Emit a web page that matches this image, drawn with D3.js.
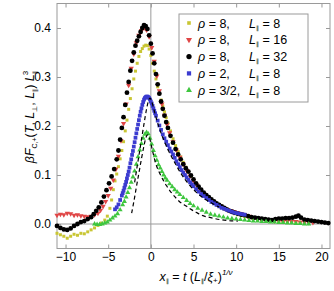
<!DOCTYPE html>
<html>
<head>
<meta charset="utf-8">
<script src="https://cdn.jsdelivr.net/npm/d3@7"></script>
<style>
  body { margin: 0; background: #fff; }
  text { font-family: "Liberation Sans", Arial, sans-serif; fill: #000; }
  .axis path { display: none; }
  .axis line { stroke: #999; }
  .axis text { font-size: 12px; }
</style>
</head>
<body>
<div id="chart"></div>
<script>
// Step 1: data, [x, y] pairs
// =================================
var rho8L8 = [
  [-11.0,-0.019],[-10.6,-0.022],[-10.2,-0.025],[-9.8,-0.029],[-9.4,-0.025],[-9.0,-0.021],
  [-8.6,-0.023],[-8.2,-0.019],[-7.8,-0.020],[-7.4,-0.016],[-7.0,-0.012],[-6.6,-0.008],
  [-6.2,-0.003],[-5.8,0.002],[-5.4,0.008],[-5.1,0.016],[-4.8,0.032],[-4.6,0.049],
  [-4.4,0.070],[-4.2,0.088],[-4.0,0.102],[-3.8,0.117],[-3.6,0.133],[-3.4,0.150],
  [-3.2,0.168],[-3.0,0.190],[-2.8,0.212],[-2.6,0.234],[-2.4,0.256],[-2.2,0.276],
  [-2.0,0.296],[-1.8,0.312],[-1.6,0.328],[-1.4,0.342],[-1.2,0.352],[-1.0,0.358],
  [-0.8,0.363],[-0.6,0.365],[-0.4,0.364],[-0.2,0.357],[0.0,0.344],[0.2,0.328],
  [0.4,0.312],[0.6,0.296],[0.8,0.280],[1.0,0.266],[1.2,0.253],[1.4,0.241],
  [1.6,0.229],[1.8,0.217],[2.0,0.206],[2.3,0.190],[2.6,0.174],[2.9,0.160],
  [3.2,0.148],[3.5,0.137],[3.8,0.126],[4.1,0.116],[4.4,0.106],[4.7,0.097],
  [5.0,0.089],[5.4,0.079],[5.8,0.070],[6.2,0.062],[6.6,0.055],[7.0,0.049],
  [7.4,0.043],[7.8,0.038],[8.2,0.034],[8.6,0.030],[9.0,0.027],[9.4,0.024],
  [9.8,0.021],[10.2,0.019],[10.6,0.017],[11.0,0.015],[11.5,0.013],[12.0,0.011],
  [12.5,0.009],[13.0,0.008],[13.5,0.007],[14.0,0.006],[14.5,0.005],[15.0,0.004],
  [15.5,0.004],[16.0,0.003],[16.5,0.003],[17.0,0.002],[17.5,0.002],[18.0,0.001]
];

var rho8L16 = [
  [-11.0,0.018],[-10.6,0.020],[-10.2,0.019],[-9.8,0.022],[-9.4,0.021],[-9.0,0.018],
  [-8.6,0.019],[-8.2,0.017],[-7.8,0.016],[-7.4,0.015],[-7.0,0.016],[-6.6,0.019],
  [-6.2,0.022],[-5.9,0.028],[-5.6,0.036],[-5.3,0.046],[-5.0,0.058],[-4.7,0.073],
  [-4.4,0.090],[-4.1,0.112],[-3.8,0.138],[-3.5,0.170],[-3.2,0.205],[-2.9,0.245],
  [-2.6,0.283],[-2.3,0.318],[-2.0,0.347],[-1.7,0.370],[-1.4,0.385],[-1.1,0.395],
  [-0.8,0.400],[-0.5,0.396],[-0.2,0.382],[0.1,0.360],[0.4,0.332],[0.7,0.302],
  [1.0,0.272],[1.3,0.245],[1.6,0.222],[1.9,0.203],[2.2,0.186],[2.6,0.168],
  [3.0,0.151],[3.4,0.136],[3.8,0.122],[4.2,0.109],[4.6,0.098],[5.0,0.088],
  [5.4,0.079],[5.8,0.070],[6.2,0.062],[6.6,0.056],[7.0,0.050],[7.4,0.045],
  [7.8,0.040],[8.2,0.036],[8.6,0.032],[9.0,0.029],[9.4,0.027],[9.8,0.025],
  [10.2,0.023],[10.6,0.021],[11.0,0.019],[11.5,0.016],[12.0,0.013],[12.5,0.011],
  [13.0,0.009],[13.5,0.008],[14.0,0.007],[14.5,0.006],[15.0,0.006],[15.5,0.005],
  [16.0,0.006],[16.5,0.005],[17.0,0.005],[17.5,0.004],[18.0,0.004],[18.5,0.003],[19.0,0.003]
];

var rho8L32 = [
  [-11.0,-0.004],[-10.6,-0.008],[-10.2,-0.011],[-9.8,-0.012],[-9.4,-0.009],[-9.0,-0.004],
  [-8.6,0.000],[-8.2,0.004],[-7.8,0.006],[-7.4,0.010],[-7.0,0.014],[-6.7,0.020],
  [-6.4,0.027],[-6.1,0.034],[-5.8,0.044],[-5.5,0.056],[-5.2,0.069],[-4.9,0.083],
  [-4.6,0.097],[-4.3,0.112],[-4.0,0.132],[-3.8,0.150],[-3.6,0.172],[-3.4,0.196],
  [-3.2,0.218],[-3.0,0.243],[-2.8,0.268],[-2.6,0.290],[-2.4,0.313],[-2.2,0.333],
  [-2.0,0.350],[-1.8,0.364],[-1.6,0.374],[-1.4,0.383],[-1.2,0.392],[-1.0,0.400],
  [-0.8,0.406],[-0.6,0.404],[-0.4,0.398],[-0.2,0.385],[0.0,0.368],[0.2,0.348],
  [0.4,0.328],[0.6,0.306],[0.8,0.285],[1.0,0.266],[1.2,0.250],[1.4,0.235],
  [1.6,0.221],[1.8,0.208],[2.0,0.196],[2.3,0.180],[2.6,0.166],[2.9,0.153],
  [3.2,0.142],[3.5,0.132],[3.8,0.122],[4.1,0.114],[4.4,0.107],[4.7,0.099],
  [5.0,0.091],[5.3,0.083],[5.6,0.076],[5.9,0.070],[6.2,0.064],[6.5,0.059],
  [6.8,0.055],[7.1,0.050],[7.4,0.046],[7.7,0.042],[8.0,0.039],[8.3,0.036],
  [8.6,0.033],[8.9,0.030],[9.2,0.027],[9.5,0.025],[9.8,0.023],[10.2,0.021],
  [10.6,0.019],[11.0,0.018],[11.4,0.016],[11.8,0.014],[12.2,0.013],[12.6,0.012],
  [13.0,0.011],[13.4,0.010],[13.8,0.009],[14.2,0.008],[14.6,0.010],[15.0,0.011],
  [15.4,0.011],[15.8,0.012],[16.2,0.012],[16.6,0.013],[17.0,0.015],[17.3,0.017],
  [17.6,0.013],[18.0,0.009],[18.4,0.008],[18.8,0.007],[19.2,0.006],[19.6,0.005],
  [20.0,0.004],[20.4,0.003],[20.8,0.002]
];

var rho2L8 = [
  [-4.2,0.030],[-4.0,0.034],[-3.8,0.040],[-3.6,0.049],[-3.4,0.058],[-3.3,0.063],
  [-3.2,0.068],[-3.1,0.074],[-3.0,0.080],[-2.9,0.086],[-2.8,0.093],[-2.7,0.100],
  [-2.6,0.107],[-2.5,0.115],[-2.4,0.124],[-2.3,0.132],[-2.2,0.141],[-2.1,0.149],
  [-2.0,0.158],[-1.9,0.167],[-1.8,0.176],[-1.7,0.185],[-1.6,0.194],[-1.5,0.203],
  [-1.4,0.212],[-1.3,0.221],[-1.2,0.229],[-1.1,0.236],[-1.0,0.243],[-0.9,0.249],
  [-0.8,0.254],[-0.7,0.257],[-0.6,0.259],[-0.5,0.260],[-0.4,0.260],[-0.3,0.259],
  [-0.2,0.257],[-0.1,0.254],[0.0,0.250],[0.1,0.246],[0.2,0.241],[0.3,0.236],
  [0.4,0.231],[0.5,0.226],[0.6,0.221],[0.8,0.211],[1.0,0.201],[1.2,0.192],
  [1.4,0.183],[1.6,0.175],[1.8,0.168],[2.0,0.161],[2.2,0.154],[2.4,0.148],
  [2.6,0.142],[2.8,0.135],[3.0,0.128],[3.2,0.122],[3.4,0.116],[3.6,0.110],
  [3.8,0.105],[4.0,0.100],[4.2,0.095],[4.4,0.090],[4.6,0.085],[4.8,0.081],
  [5.0,0.077],[5.3,0.071],[5.6,0.066],[5.9,0.061],[6.2,0.057],[6.5,0.053],
  [6.8,0.049],[7.1,0.045],[7.4,0.042],[7.7,0.039],[8.0,0.036],[8.3,0.033],
  [8.6,0.031],[8.9,0.029],[9.2,0.027],[9.5,0.025],[9.8,0.023],[10.1,0.022],
  [10.4,0.021],[10.7,0.020],[11.0,0.019]
];

var rho32L8 = [
  [-6.6,0.000],[-6.3,-0.001],[-6.0,-0.001],[-5.7,0.000],[-5.4,0.002],[-5.1,0.004],
  [-4.8,0.008],[-4.5,0.012],[-4.2,0.016],[-3.9,0.021],[-3.6,0.029],[-3.3,0.039],
  [-3.1,0.046],[-2.9,0.055],[-2.7,0.064],[-2.5,0.074],[-2.3,0.085],[-2.1,0.096],
  [-1.9,0.108],[-1.7,0.122],[-1.5,0.137],[-1.3,0.151],[-1.1,0.164],[-0.9,0.175],
  [-0.7,0.183],[-0.5,0.187],[-0.3,0.184],[-0.1,0.175],[0.1,0.163],[0.3,0.150],
  [0.5,0.139],[0.7,0.130],[0.9,0.121],[1.1,0.114],[1.3,0.107],[1.5,0.100],
  [1.7,0.094],[1.9,0.089],[2.2,0.082],[2.5,0.076],[2.8,0.070],[3.1,0.065],
  [3.4,0.060],[3.8,0.054],[4.2,0.048],[4.6,0.042],[5.0,0.037],[5.5,0.032],
  [6.0,0.028],[6.5,0.024],[7.0,0.020],[7.5,0.018],[8.0,0.016],[8.5,0.014],
  [9.0,0.012],[9.5,0.011],[10.0,0.010],[10.5,0.009],[11.0,0.008],[11.5,0.007],
  [12.0,0.006],[12.5,0.006],[13.0,0.005],[13.5,0.005],[14.0,0.004],[14.5,0.004],
  [15.0,0.003],[15.5,0.003],[16.0,0.002],[16.5,0.002],[17.0,0.001],[17.5,0.001],
  [18.0,0.000],[18.5,0.000]
];

// dashed reference curves
var dashUpper = [
  [-1.9,0.085],[-1.6,0.118],[-1.3,0.150],[-1.0,0.183],[-0.7,0.215],[-0.5,0.235],
  [-0.3,0.250],[-0.1,0.257],[0.1,0.250],[0.3,0.238],[0.6,0.218],[1.0,0.195],
  [1.5,0.172],[2.0,0.152],[2.5,0.135],[3.0,0.119],[3.5,0.104],[4.0,0.091],
  [4.5,0.080],[5.0,0.070],[5.5,0.062],[6.0,0.055],[6.5,0.049],[7.0,0.044],
  [7.5,0.039],[8.0,0.035]
];

var dashLower = [
  [-2.25,0.022],[-2.0,0.045],[-1.7,0.075],[-1.4,0.104],[-1.1,0.133],[-0.8,0.160],
  [-0.6,0.175],[-0.4,0.182],[-0.2,0.178],[0.0,0.165],[0.27,0.144],[0.6,0.122],
  [1.05,0.103],[1.5,0.088],[1.84,0.078],[2.4,0.064],[3.0,0.052],[3.4,0.045],
  [4.2,0.036],[4.6,0.031],[5.3,0.024],[6.1,0.017],[7.0,0.013],[8.1,0.009],
  [9.2,0.007],[10.2,0.006]
];

var xTicks = [-10, -5, 0, 5, 10, 15, 20];
var yTicks = [0.0, 0.1, 0.2, 0.3, 0.4];

var rhoLabels = ["8,", "8,", "8,", "2,", "3/2,"];
var lLabels   = ["8", "16", "32", "8", "8"];

// Step 2: set up the chart
// =================================
var svgWidth  = 334;
var svgHeight = 291;

var frame = { left: 57, right: 330, top: 3.5, bottom: 248.5 };

var svg = d3.select("#chart")
  .append("svg")
  .attr("width", svgWidth)
  .attr("height", svgHeight);

var xScale = d3.scaleLinear().domain([-11, 21]).range([frame.left, frame.right]);
var yScale = d3.scaleLinear().domain([-0.05, 0.45]).range([frame.bottom, frame.top]);

// axes lines through zero
svg.append("line")
  .attr("x1", xScale(0)).attr("x2", xScale(0))
  .attr("y1", frame.top).attr("y2", frame.bottom)
  .attr("stroke", "#9a9a9a").attr("stroke-width", 1);
svg.append("line")
  .attr("x1", frame.left).attr("x2", frame.right)
  .attr("y1", yScale(0)).attr("y2", yScale(0))
  .attr("stroke", "#9a9a9a").attr("stroke-width", 1);

// frame
svg.append("rect")
  .attr("x", frame.left).attr("y", frame.top)
  .attr("width", frame.right - frame.left)
  .attr("height", frame.bottom - frame.top)
  .attr("fill", "none")
  .attr("stroke", "#9a9a9a");

// Step 3: ticks, all pointing inwards
// =================================
svg.append("g").attr("class", "axis")
  .attr("transform", `translate(0, ${frame.bottom})`)
  .call(d3.axisBottom(xScale).tickValues(xTicks).tickSize(-4).tickPadding(4));
svg.append("g").attr("class", "axis")
  .attr("transform", `translate(0, ${frame.top})`)
  .call(d3.axisTop(xScale).tickValues(xTicks).tickSize(-4).tickFormat(""));
svg.append("g").attr("class", "axis")
  .attr("transform", `translate(${frame.left}, 0)`)
  .call(d3.axisLeft(yScale).tickValues(yTicks).tickSize(-4).tickPadding(6)
    .tickFormat(d3.format(".1f")));
svg.append("g").attr("class", "axis")
  .attr("transform", `translate(${frame.right}, 0)`)
  .call(d3.axisRight(yScale).tickValues(yTicks).tickSize(-4).tickFormat(""));

// Step 4: series
// =================================
var plot = svg.append("g");

var series = [
  { data: rho8L8,  color: "#c9c634", shape: d3.symbolSquare,   size: 9,  rot: 0 },
  { data: rho8L16, color: "#e04646", shape: d3.symbolTriangle, size: 12, rot: 180 },
  { data: rho8L32, color: "#000000", shape: d3.symbolCircle,   size: 18, rot: 0 },
  { data: rho2L8,  color: "#3b3bd0", shape: d3.symbolSquare,   size: 14, rot: 0 },
  { data: rho32L8, color: "#3fc63f", shape: d3.symbolTriangle, size: 11, rot: 0 }
];

series.forEach(function(s) {
  plot.append("g")
    .selectAll("path")
    .data(s.data)
    .enter().append("path")
      .attr("d", d3.symbol().type(s.shape).size(s.size))
      .attr("transform", d => `translate(${xScale(d[0])}, ${yScale(d[1])}) rotate(${s.rot})`)
      .attr("fill", s.color);
});

var line = d3.line()
  .x(d => xScale(d[0]))
  .y(d => yScale(d[1]))
  .curve(d3.curveMonotoneX);

[dashUpper, dashLower].forEach(function(d) {
  plot.append("path")
    .datum(d)
    .attr("d", line)
    .attr("fill", "none")
    .attr("stroke", "#000")
    .attr("stroke-width", 1.2)
    .attr("stroke-dasharray", "4,3");
});

// Step 5: legend
// =================================
var legend = svg.append("g");
legend.append("rect")
  .attr("x", 179).attr("y", 14)
  .attr("width", 129).attr("height", 88)
  .attr("fill", "#fff")
  .attr("stroke", "#9a9a9a");

var rows = legend.selectAll("g.row")
  .data(series)
  .enter().append("g")
    .attr("class", "row")
    .attr("transform", (d, i) => `translate(0, ${23 + 16.8 * i})`);

rows.append("path")
  .attr("d", d => d3.symbol().type(d.shape).size(d.size + 4)())
  .attr("transform", d => `translate(189, 0) rotate(${d.rot})`)
  .attr("fill", d => d.color);

var rhoText = rows.append("text")
  .attr("x", 198).attr("y", 4.5)
  .attr("font-size", "12.5px");
rhoText.append("tspan").attr("font-style", "italic").text("ρ");
rhoText.append("tspan").text((d, i) => " = " + rhoLabels[i]);

var lText = rows.append("text")
  .attr("x", 249).attr("y", 4.5)
  .attr("font-size", "12.5px");
lText.append("tspan").attr("font-style", "italic").text("L");
lText.append("tspan").attr("font-size", "6px").attr("dy", 2).text("∥");
lText.append("tspan").attr("dy", -2).text((d, i) => " = " + lLabels[i]);

// Step 6: axis titles
// =================================
var yTitle = svg.append("text")
  .attr("transform", "translate(34, 117) rotate(-90)")
  .attr("text-anchor", "middle")
  .attr("font-size", "12.5px");
yTitle.append("tspan").attr("font-style", "italic").text("βF");
yTitle.append("tspan").attr("font-size", "7px").attr("dy", 3).text("C,+");
yTitle.append("tspan").attr("dy", -3).text("(");
yTitle.append("tspan").attr("font-style", "italic").text("T");
yTitle.append("tspan").text(", ");
yTitle.append("tspan").attr("font-style", "italic").text("L");
yTitle.append("tspan").attr("font-size", "7px").attr("dy", 3).text("⊥");
yTitle.append("tspan").attr("dy", -3).text(", ");
yTitle.append("tspan").attr("font-style", "italic").text("L");
yTitle.append("tspan").attr("font-size", "6px").attr("dy", 3).text("∥");
yTitle.append("tspan").attr("dy", -3).text(") ");
yTitle.append("tspan").attr("font-style", "italic").text("L");
yTitle.append("tspan").attr("font-size", "6px").attr("dy", 3).text("∥");
yTitle.append("tspan").attr("font-size", "8px").attr("dx", -4).attr("dy", -9).text("3");

var xTitle = svg.append("text")
  .attr("x", 196).attr("y", 281)
  .attr("text-anchor", "middle")
  .attr("font-size", "12.5px");
xTitle.append("tspan").attr("font-style", "italic").text("x");
xTitle.append("tspan").attr("font-size", "6px").attr("dy", 2).text("∥");
xTitle.append("tspan").attr("dy", -2).text(" = ");
xTitle.append("tspan").attr("font-style", "italic").text("t");
xTitle.append("tspan").text(" (");
xTitle.append("tspan").attr("font-style", "italic").text("L");
xTitle.append("tspan").attr("font-size", "6px").attr("dy", 2).text("∥");
xTitle.append("tspan").attr("dy", -2).text("/");
xTitle.append("tspan").attr("font-style", "italic").text("ξ");
xTitle.append("tspan").attr("font-size", "8px").attr("dy", 2).text("+");
xTitle.append("tspan").attr("dy", -2).text(")");
xTitle.append("tspan").attr("font-size", "8px").attr("font-style", "italic").attr("dy", -6).text("1/ν");
</script>
</body>
</html>
